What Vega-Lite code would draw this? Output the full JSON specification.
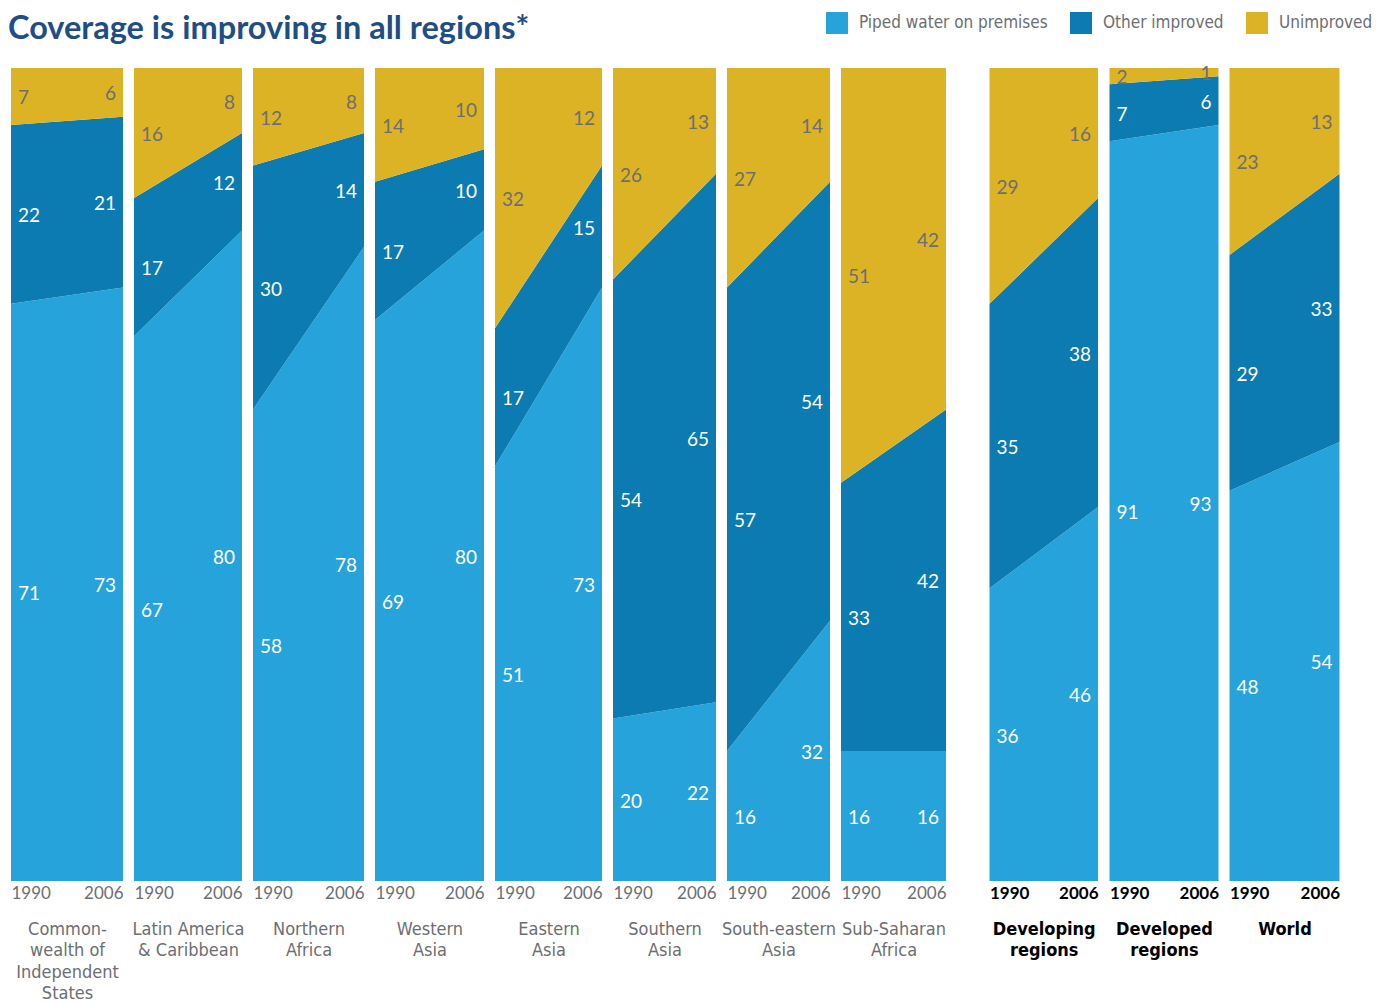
{
  "$schema": "https://vega.github.io/schema/vega-lite/v6.json",
  "background": "white",
  "padding": {"left": 8, "top": 12, "right": 0, "bottom": 0},
  "autosize": {"type": "pad"},
  "title": {"text": "Coverage is improving in all regions*", "anchor": "start", "font": "Lato", "fontSize": 32.5, "fontWeight": "bold", "color": "#1f4e85", "offset": -33, "dx": -3},
  "data": {"values": [
    {"r": "CIS", "y": 1990, "c": "Piped water on premises", "v": 71},
    {"r": "CIS", "y": 1990, "c": "Other improved", "v": 22},
    {"r": "CIS", "y": 1990, "c": "Unimproved", "v": 7},
    {"r": "CIS", "y": 2006, "c": "Piped water on premises", "v": 73},
    {"r": "CIS", "y": 2006, "c": "Other improved", "v": 21},
    {"r": "CIS", "y": 2006, "c": "Unimproved", "v": 6},
    {"r": "LAC", "y": 1990, "c": "Piped water on premises", "v": 67},
    {"r": "LAC", "y": 1990, "c": "Other improved", "v": 17},
    {"r": "LAC", "y": 1990, "c": "Unimproved", "v": 16},
    {"r": "LAC", "y": 2006, "c": "Piped water on premises", "v": 80},
    {"r": "LAC", "y": 2006, "c": "Other improved", "v": 12},
    {"r": "LAC", "y": 2006, "c": "Unimproved", "v": 8},
    {"r": "NAF", "y": 1990, "c": "Piped water on premises", "v": 58},
    {"r": "NAF", "y": 1990, "c": "Other improved", "v": 30},
    {"r": "NAF", "y": 1990, "c": "Unimproved", "v": 12},
    {"r": "NAF", "y": 2006, "c": "Piped water on premises", "v": 78},
    {"r": "NAF", "y": 2006, "c": "Other improved", "v": 14},
    {"r": "NAF", "y": 2006, "c": "Unimproved", "v": 8},
    {"r": "WAS", "y": 1990, "c": "Piped water on premises", "v": 69},
    {"r": "WAS", "y": 1990, "c": "Other improved", "v": 17},
    {"r": "WAS", "y": 1990, "c": "Unimproved", "v": 14},
    {"r": "WAS", "y": 2006, "c": "Piped water on premises", "v": 80},
    {"r": "WAS", "y": 2006, "c": "Other improved", "v": 10},
    {"r": "WAS", "y": 2006, "c": "Unimproved", "v": 10},
    {"r": "EAS", "y": 1990, "c": "Piped water on premises", "v": 51},
    {"r": "EAS", "y": 1990, "c": "Other improved", "v": 17},
    {"r": "EAS", "y": 1990, "c": "Unimproved", "v": 32},
    {"r": "EAS", "y": 2006, "c": "Piped water on premises", "v": 73},
    {"r": "EAS", "y": 2006, "c": "Other improved", "v": 15},
    {"r": "EAS", "y": 2006, "c": "Unimproved", "v": 12},
    {"r": "SAS", "y": 1990, "c": "Piped water on premises", "v": 20},
    {"r": "SAS", "y": 1990, "c": "Other improved", "v": 54},
    {"r": "SAS", "y": 1990, "c": "Unimproved", "v": 26},
    {"r": "SAS", "y": 2006, "c": "Piped water on premises", "v": 22},
    {"r": "SAS", "y": 2006, "c": "Other improved", "v": 65},
    {"r": "SAS", "y": 2006, "c": "Unimproved", "v": 13},
    {"r": "SEA", "y": 1990, "c": "Piped water on premises", "v": 16},
    {"r": "SEA", "y": 1990, "c": "Other improved", "v": 57},
    {"r": "SEA", "y": 1990, "c": "Unimproved", "v": 27},
    {"r": "SEA", "y": 2006, "c": "Piped water on premises", "v": 32},
    {"r": "SEA", "y": 2006, "c": "Other improved", "v": 54},
    {"r": "SEA", "y": 2006, "c": "Unimproved", "v": 14},
    {"r": "SSA", "y": 1990, "c": "Piped water on premises", "v": 16},
    {"r": "SSA", "y": 1990, "c": "Other improved", "v": 33},
    {"r": "SSA", "y": 1990, "c": "Unimproved", "v": 51},
    {"r": "SSA", "y": 2006, "c": "Piped water on premises", "v": 16},
    {"r": "SSA", "y": 2006, "c": "Other improved", "v": 42},
    {"r": "SSA", "y": 2006, "c": "Unimproved", "v": 42},
    {"r": "DVG", "y": 1990, "c": "Piped water on premises", "v": 36},
    {"r": "DVG", "y": 1990, "c": "Other improved", "v": 35},
    {"r": "DVG", "y": 1990, "c": "Unimproved", "v": 29},
    {"r": "DVG", "y": 2006, "c": "Piped water on premises", "v": 46},
    {"r": "DVG", "y": 2006, "c": "Other improved", "v": 38},
    {"r": "DVG", "y": 2006, "c": "Unimproved", "v": 16},
    {"r": "DVD", "y": 1990, "c": "Piped water on premises", "v": 91},
    {"r": "DVD", "y": 1990, "c": "Other improved", "v": 7},
    {"r": "DVD", "y": 1990, "c": "Unimproved", "v": 2},
    {"r": "DVD", "y": 2006, "c": "Piped water on premises", "v": 93},
    {"r": "DVD", "y": 2006, "c": "Other improved", "v": 6},
    {"r": "DVD", "y": 2006, "c": "Unimproved", "v": 1},
    {"r": "WLD", "y": 1990, "c": "Piped water on premises", "v": 48},
    {"r": "WLD", "y": 1990, "c": "Other improved", "v": 29},
    {"r": "WLD", "y": 1990, "c": "Unimproved", "v": 23},
    {"r": "WLD", "y": 2006, "c": "Piped water on premises", "v": 54},
    {"r": "WLD", "y": 2006, "c": "Other improved", "v": 33},
    {"r": "WLD", "y": 2006, "c": "Unimproved", "v": 13}
  ]},
  "transform": [
    {"calculate": "indexof(['Piped water on premises','Other improved','Unimproved'], datum.c)", "as": "k"},
    {"stack": "v", "groupby": ["r", "y"], "sort": [{"field": "k", "order": "ascending"}], "as": ["v0", "v1"]},
    {"calculate": "(datum.v0 + datum.v1) / 2", "as": "mid"}
  ],
  "spacing": 43.5,
  "resolve": {"scale": {"color": "shared"}, "legend": {"color": "shared"}},
  "hconcat": [
    {
      "spacing": 11,
      "bounds": "flush",
      "resolve": {"scale": {"color": "shared"}, "legend": {"color": "shared"}},
      "hconcat": [
        {"width": 112, "height": 813, "transform": [{"filter": "datum.r === 'CIS'"}],
          "encoding": {"x": {"field": "y", "type": "quantitative", "scale": {"domain": [1990, 2006], "nice": false, "zero": false}, "axis": {"values": [1990, 2006], "format": "d", "title": ["Common-", "wealth of", "Independent", "States"]}}},
          "layer": [
            {"mark": "area", "encoding": {"y": {"field": "v0", "type": "quantitative", "scale": {"domain": [0, 100], "nice": false}, "axis": null}, "y2": {"field": "v1"}, "color": {"field": "c", "type": "nominal", "scale": {"domain": ["Piped water on premises", "Other improved", "Unimproved"], "range": ["#27a3dc", "#0b7bb1", "#dcb324"]}, "legend": {"title": null}}}},
            {"transform": [{"filter": "datum.y == 1990"}], "mark": {"type": "text", "align": "left", "dx": 7}, "encoding": {"y": {"field": "mid", "type": "quantitative", "axis": null}, "text": {"field": "v", "type": "quantitative"}, "color": {"condition": {"test": "datum.c === 'Unimproved'", "value": "#6d6e71"}, "value": "white"}}},
            {"transform": [{"filter": "datum.y == 2006"}], "mark": {"type": "text", "align": "right", "dx": -7}, "encoding": {"y": {"field": "mid", "type": "quantitative", "axis": null}, "text": {"field": "v", "type": "quantitative"}, "color": {"condition": {"test": "datum.c === 'Unimproved'", "value": "#6d6e71"}, "value": "white"}}}
          ]},
        {"width": 108, "height": 813, "transform": [{"filter": "datum.r === 'LAC'"}],
          "encoding": {"x": {"field": "y", "type": "quantitative", "scale": {"domain": [1990, 2006], "nice": false, "zero": false}, "axis": {"values": [1990, 2006], "format": "d", "title": ["Latin America", "& Caribbean"]}}},
          "layer": [
            {"mark": "area", "encoding": {"y": {"field": "v0", "type": "quantitative", "scale": {"domain": [0, 100], "nice": false}, "axis": null}, "y2": {"field": "v1"}, "color": {"field": "c", "type": "nominal", "scale": {"domain": ["Piped water on premises", "Other improved", "Unimproved"], "range": ["#27a3dc", "#0b7bb1", "#dcb324"]}, "legend": {"title": null}}}},
            {"transform": [{"filter": "datum.y == 1990"}], "mark": {"type": "text", "align": "left", "dx": 7}, "encoding": {"y": {"field": "mid", "type": "quantitative", "axis": null}, "text": {"field": "v", "type": "quantitative"}, "color": {"condition": {"test": "datum.c === 'Unimproved'", "value": "#6d6e71"}, "value": "white"}}},
            {"transform": [{"filter": "datum.y == 2006"}], "mark": {"type": "text", "align": "right", "dx": -7}, "encoding": {"y": {"field": "mid", "type": "quantitative", "axis": null}, "text": {"field": "v", "type": "quantitative"}, "color": {"condition": {"test": "datum.c === 'Unimproved'", "value": "#6d6e71"}, "value": "white"}}}
          ]},
        {"width": 111, "height": 813, "transform": [{"filter": "datum.r === 'NAF'"}],
          "encoding": {"x": {"field": "y", "type": "quantitative", "scale": {"domain": [1990, 2006], "nice": false, "zero": false}, "axis": {"values": [1990, 2006], "format": "d", "title": ["Northern", "Africa"]}}},
          "layer": [
            {"mark": "area", "encoding": {"y": {"field": "v0", "type": "quantitative", "scale": {"domain": [0, 100], "nice": false}, "axis": null}, "y2": {"field": "v1"}, "color": {"field": "c", "type": "nominal", "scale": {"domain": ["Piped water on premises", "Other improved", "Unimproved"], "range": ["#27a3dc", "#0b7bb1", "#dcb324"]}, "legend": {"title": null}}}},
            {"transform": [{"filter": "datum.y == 1990"}], "mark": {"type": "text", "align": "left", "dx": 7}, "encoding": {"y": {"field": "mid", "type": "quantitative", "axis": null}, "text": {"field": "v", "type": "quantitative"}, "color": {"condition": {"test": "datum.c === 'Unimproved'", "value": "#6d6e71"}, "value": "white"}}},
            {"transform": [{"filter": "datum.y == 2006"}], "mark": {"type": "text", "align": "right", "dx": -7}, "encoding": {"y": {"field": "mid", "type": "quantitative", "axis": null}, "text": {"field": "v", "type": "quantitative"}, "color": {"condition": {"test": "datum.c === 'Unimproved'", "value": "#6d6e71"}, "value": "white"}}}
          ]},
        {"width": 109, "height": 813, "transform": [{"filter": "datum.r === 'WAS'"}],
          "encoding": {"x": {"field": "y", "type": "quantitative", "scale": {"domain": [1990, 2006], "nice": false, "zero": false}, "axis": {"values": [1990, 2006], "format": "d", "title": ["Western", "Asia"]}}},
          "layer": [
            {"mark": "area", "encoding": {"y": {"field": "v0", "type": "quantitative", "scale": {"domain": [0, 100], "nice": false}, "axis": null}, "y2": {"field": "v1"}, "color": {"field": "c", "type": "nominal", "scale": {"domain": ["Piped water on premises", "Other improved", "Unimproved"], "range": ["#27a3dc", "#0b7bb1", "#dcb324"]}, "legend": {"title": null}}}},
            {"transform": [{"filter": "datum.y == 1990"}], "mark": {"type": "text", "align": "left", "dx": 7}, "encoding": {"y": {"field": "mid", "type": "quantitative", "axis": null}, "text": {"field": "v", "type": "quantitative"}, "color": {"condition": {"test": "datum.c === 'Unimproved'", "value": "#6d6e71"}, "value": "white"}}},
            {"transform": [{"filter": "datum.y == 2006"}], "mark": {"type": "text", "align": "right", "dx": -7}, "encoding": {"y": {"field": "mid", "type": "quantitative", "axis": null}, "text": {"field": "v", "type": "quantitative"}, "color": {"condition": {"test": "datum.c === 'Unimproved'", "value": "#6d6e71"}, "value": "white"}}}
          ]},
        {"width": 107, "height": 813, "transform": [{"filter": "datum.r === 'EAS'"}],
          "encoding": {"x": {"field": "y", "type": "quantitative", "scale": {"domain": [1990, 2006], "nice": false, "zero": false}, "axis": {"values": [1990, 2006], "format": "d", "title": ["Eastern", "Asia"]}}},
          "layer": [
            {"mark": "area", "encoding": {"y": {"field": "v0", "type": "quantitative", "scale": {"domain": [0, 100], "nice": false}, "axis": null}, "y2": {"field": "v1"}, "color": {"field": "c", "type": "nominal", "scale": {"domain": ["Piped water on premises", "Other improved", "Unimproved"], "range": ["#27a3dc", "#0b7bb1", "#dcb324"]}, "legend": {"title": null}}}},
            {"transform": [{"filter": "datum.y == 1990"}], "mark": {"type": "text", "align": "left", "dx": 7}, "encoding": {"y": {"field": "mid", "type": "quantitative", "axis": null}, "text": {"field": "v", "type": "quantitative"}, "color": {"condition": {"test": "datum.c === 'Unimproved'", "value": "#6d6e71"}, "value": "white"}}},
            {"transform": [{"filter": "datum.y == 2006"}], "mark": {"type": "text", "align": "right", "dx": -7}, "encoding": {"y": {"field": "mid", "type": "quantitative", "axis": null}, "text": {"field": "v", "type": "quantitative"}, "color": {"condition": {"test": "datum.c === 'Unimproved'", "value": "#6d6e71"}, "value": "white"}}}
          ]},
        {"width": 103, "height": 813, "transform": [{"filter": "datum.r === 'SAS'"}],
          "encoding": {"x": {"field": "y", "type": "quantitative", "scale": {"domain": [1990, 2006], "nice": false, "zero": false}, "axis": {"values": [1990, 2006], "format": "d", "title": ["Southern", "Asia"]}}},
          "layer": [
            {"mark": "area", "encoding": {"y": {"field": "v0", "type": "quantitative", "scale": {"domain": [0, 100], "nice": false}, "axis": null}, "y2": {"field": "v1"}, "color": {"field": "c", "type": "nominal", "scale": {"domain": ["Piped water on premises", "Other improved", "Unimproved"], "range": ["#27a3dc", "#0b7bb1", "#dcb324"]}, "legend": {"title": null}}}},
            {"transform": [{"filter": "datum.y == 1990"}], "mark": {"type": "text", "align": "left", "dx": 7}, "encoding": {"y": {"field": "mid", "type": "quantitative", "axis": null}, "text": {"field": "v", "type": "quantitative"}, "color": {"condition": {"test": "datum.c === 'Unimproved'", "value": "#6d6e71"}, "value": "white"}}},
            {"transform": [{"filter": "datum.y == 2006"}], "mark": {"type": "text", "align": "right", "dx": -7}, "encoding": {"y": {"field": "mid", "type": "quantitative", "axis": null}, "text": {"field": "v", "type": "quantitative"}, "color": {"condition": {"test": "datum.c === 'Unimproved'", "value": "#6d6e71"}, "value": "white"}}}
          ]},
        {"width": 103, "height": 813, "transform": [{"filter": "datum.r === 'SEA'"}],
          "encoding": {"x": {"field": "y", "type": "quantitative", "scale": {"domain": [1990, 2006], "nice": false, "zero": false}, "axis": {"values": [1990, 2006], "format": "d", "title": ["South-eastern", "Asia"]}}},
          "layer": [
            {"mark": "area", "encoding": {"y": {"field": "v0", "type": "quantitative", "scale": {"domain": [0, 100], "nice": false}, "axis": null}, "y2": {"field": "v1"}, "color": {"field": "c", "type": "nominal", "scale": {"domain": ["Piped water on premises", "Other improved", "Unimproved"], "range": ["#27a3dc", "#0b7bb1", "#dcb324"]}, "legend": {"title": null}}}},
            {"transform": [{"filter": "datum.y == 1990"}], "mark": {"type": "text", "align": "left", "dx": 7}, "encoding": {"y": {"field": "mid", "type": "quantitative", "axis": null}, "text": {"field": "v", "type": "quantitative"}, "color": {"condition": {"test": "datum.c === 'Unimproved'", "value": "#6d6e71"}, "value": "white"}}},
            {"transform": [{"filter": "datum.y == 2006"}], "mark": {"type": "text", "align": "right", "dx": -7}, "encoding": {"y": {"field": "mid", "type": "quantitative", "axis": null}, "text": {"field": "v", "type": "quantitative"}, "color": {"condition": {"test": "datum.c === 'Unimproved'", "value": "#6d6e71"}, "value": "white"}}}
          ]},
        {"width": 105, "height": 813, "transform": [{"filter": "datum.r === 'SSA'"}],
          "encoding": {"x": {"field": "y", "type": "quantitative", "scale": {"domain": [1990, 2006], "nice": false, "zero": false}, "axis": {"values": [1990, 2006], "format": "d", "title": ["Sub-Saharan", "Africa"]}}},
          "layer": [
            {"mark": "area", "encoding": {"y": {"field": "v0", "type": "quantitative", "scale": {"domain": [0, 100], "nice": false}, "axis": null}, "y2": {"field": "v1"}, "color": {"field": "c", "type": "nominal", "scale": {"domain": ["Piped water on premises", "Other improved", "Unimproved"], "range": ["#27a3dc", "#0b7bb1", "#dcb324"]}, "legend": {"title": null}}}},
            {"transform": [{"filter": "datum.y == 1990"}], "mark": {"type": "text", "align": "left", "dx": 7}, "encoding": {"y": {"field": "mid", "type": "quantitative", "axis": null}, "text": {"field": "v", "type": "quantitative"}, "color": {"condition": {"test": "datum.c === 'Unimproved'", "value": "#6d6e71"}, "value": "white"}}},
            {"transform": [{"filter": "datum.y == 2006"}], "mark": {"type": "text", "align": "right", "dx": -7}, "encoding": {"y": {"field": "mid", "type": "quantitative", "axis": null}, "text": {"field": "v", "type": "quantitative"}, "color": {"condition": {"test": "datum.c === 'Unimproved'", "value": "#6d6e71"}, "value": "white"}}}
          ]}
      ]
    },
    {
      "spacing": 11,
      "bounds": "flush",
      "resolve": {"scale": {"color": "shared"}, "legend": {"color": "shared"}},
      "hconcat": [
        {"width": 108.5, "height": 813, "transform": [{"filter": "datum.r === 'DVG'"}],
          "encoding": {"x": {"field": "y", "type": "quantitative", "scale": {"domain": [1990, 2006], "nice": false, "zero": false}, "axis": {"values": [1990, 2006], "format": "d", "title": ["Developing", "regions"], "labelFontWeight": "bold", "labelColor": "#000000", "titleFontWeight": "bold", "titleColor": "#000000"}}},
          "layer": [
            {"mark": "area", "encoding": {"y": {"field": "v0", "type": "quantitative", "scale": {"domain": [0, 100], "nice": false}, "axis": null}, "y2": {"field": "v1"}, "color": {"field": "c", "type": "nominal", "scale": {"domain": ["Piped water on premises", "Other improved", "Unimproved"], "range": ["#27a3dc", "#0b7bb1", "#dcb324"]}, "legend": {"title": null}}}},
            {"transform": [{"filter": "datum.y == 1990"}], "mark": {"type": "text", "align": "left", "dx": 7}, "encoding": {"y": {"field": "mid", "type": "quantitative", "axis": null}, "text": {"field": "v", "type": "quantitative"}, "color": {"condition": {"test": "datum.c === 'Unimproved'", "value": "#6d6e71"}, "value": "white"}}},
            {"transform": [{"filter": "datum.y == 2006"}], "mark": {"type": "text", "align": "right", "dx": -7}, "encoding": {"y": {"field": "mid", "type": "quantitative", "axis": null}, "text": {"field": "v", "type": "quantitative"}, "color": {"condition": {"test": "datum.c === 'Unimproved'", "value": "#6d6e71"}, "value": "white"}}}
          ]},
        {"width": 109, "height": 813, "transform": [{"filter": "datum.r === 'DVD'"}],
          "encoding": {"x": {"field": "y", "type": "quantitative", "scale": {"domain": [1990, 2006], "nice": false, "zero": false}, "axis": {"values": [1990, 2006], "format": "d", "title": ["Developed", "regions"], "labelFontWeight": "bold", "labelColor": "#000000", "titleFontWeight": "bold", "titleColor": "#000000"}}},
          "layer": [
            {"mark": "area", "encoding": {"y": {"field": "v0", "type": "quantitative", "scale": {"domain": [0, 100], "nice": false}, "axis": null}, "y2": {"field": "v1"}, "color": {"field": "c", "type": "nominal", "scale": {"domain": ["Piped water on premises", "Other improved", "Unimproved"], "range": ["#27a3dc", "#0b7bb1", "#dcb324"]}, "legend": {"title": null}}}},
            {"transform": [{"filter": "datum.y == 1990"}], "mark": {"type": "text", "align": "left", "dx": 7}, "encoding": {"y": {"field": "mid", "type": "quantitative", "axis": null}, "text": {"field": "v", "type": "quantitative"}, "color": {"condition": {"test": "datum.c === 'Unimproved'", "value": "#6d6e71"}, "value": "white"}}},
            {"transform": [{"filter": "datum.y == 2006"}], "mark": {"type": "text", "align": "right", "dx": -7}, "encoding": {"y": {"field": "mid", "type": "quantitative", "axis": null}, "text": {"field": "v", "type": "quantitative"}, "color": {"condition": {"test": "datum.c === 'Unimproved'", "value": "#6d6e71"}, "value": "white"}}}
          ]},
        {"width": 110, "height": 813, "transform": [{"filter": "datum.r === 'WLD'"}],
          "encoding": {"x": {"field": "y", "type": "quantitative", "scale": {"domain": [1990, 2006], "nice": false, "zero": false}, "axis": {"values": [1990, 2006], "format": "d", "title": "World", "labelFontWeight": "bold", "labelColor": "#000000", "titleFontWeight": "bold", "titleColor": "#000000"}}},
          "layer": [
            {"mark": "area", "encoding": {"y": {"field": "v0", "type": "quantitative", "scale": {"domain": [0, 100], "nice": false}, "axis": null}, "y2": {"field": "v1"}, "color": {"field": "c", "type": "nominal", "scale": {"domain": ["Piped water on premises", "Other improved", "Unimproved"], "range": ["#27a3dc", "#0b7bb1", "#dcb324"]}, "legend": {"title": null}}}},
            {"transform": [{"filter": "datum.y == 1990"}], "mark": {"type": "text", "align": "left", "dx": 7}, "encoding": {"y": {"field": "mid", "type": "quantitative", "axis": null}, "text": {"field": "v", "type": "quantitative"}, "color": {"condition": {"test": "datum.c === 'Unimproved'", "value": "#6d6e71"}, "value": "white"}}},
            {"transform": [{"filter": "datum.y == 2006"}], "mark": {"type": "text", "align": "right", "dx": -7}, "encoding": {"y": {"field": "mid", "type": "quantitative", "axis": null}, "text": {"field": "v", "type": "quantitative"}, "color": {"condition": {"test": "datum.c === 'Unimproved'", "value": "#6d6e71"}, "value": "white"}}}
          ]}
      ]
    }
  ],
  "config": {
    "view": {"stroke": null},
    "area": {"opacity": 1},
    "text": {"font": "Lato", "fontSize": 19, "baseline": "middle", "dy": 2},
    "axisX": {"labelFlush": true, "domain": false, "ticks": false, "grid": false, "labelFont": "Lato", "labelFontSize": 17, "labelColor": "#6d6e71", "labelPadding": 4, "titleFont": "DejaVu Sans Condensed, sans-serif", "titleFontSize": 18, "titleFontWeight": "normal", "titleColor": "#6d6e71", "titleLineHeight": 21.5, "titlePadding": 19, "titleBaseline": "top"},
    "legend": {"orient": "none", "direction": "horizontal", "legendX": 815, "legendY": -56, "symbolType": "square", "symbolSize": 484, "symbolStrokeWidth": 0, "symbolOpacity": 1, "labelFont": "DejaVu Sans Condensed, sans-serif", "labelFontSize": 17, "labelColor": "#6d6e71", "labelOffset": 11, "columnPadding": 22, "labelLimit": 400}
  }
}
